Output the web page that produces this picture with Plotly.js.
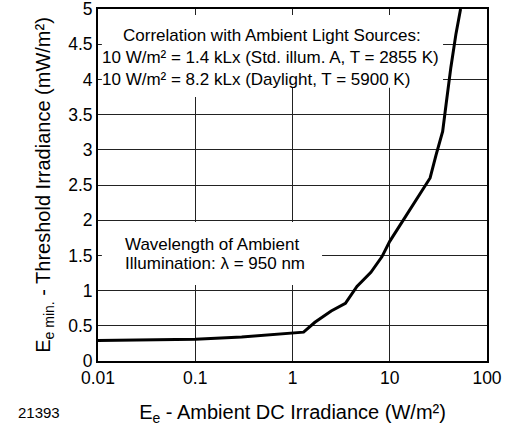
<!DOCTYPE html>
<html>
<head>
<meta charset="utf-8">
<script src="https://cdn.plot.ly/plotly-3.0.1.min.js"></script>
<style>html,body{margin:0;padding:0;background:#fff;}#chart{width:511px;height:432px;}</style>
</head>
<body>
<div id="chart"></div>
<script>
// Ambient DC irradiance (W/m²)
const ambientIrradiance = [0.01, 0.1, 0.3, 1.3, 1.7, 2.5, 3.5, 4.6, 6.4, 8.3, 10, 14.5, 19, 26, 30, 35, 38, 42.5, 48, 53.5];
// Threshold irradiance (mW/m²)
const thresholdIrradiance = [0.29, 0.31, 0.34, 0.41, 0.55, 0.71, 0.82, 1.06, 1.26, 1.48, 1.70, 2.05, 2.30, 2.60, 2.93, 3.26, 3.65, 4.17, 4.65, 5.0];
const xTickVals = [0.01, 0.1, 1, 10, 100];
const xTickText = ['0.01', '0.1', '1', '10', '100'];
const yTickVals = [0, 0.5, 1, 1.5, 2, 2.5, 3, 3.5, 4, 4.5, 5];
const yTickText = ['0', '0.5', '1', '1.5', '2', '2.5', '3', '3.5', '4', '4.5', '5'];

const font = 'Liberation Sans, Arial, Helvetica, sans-serif';

const trace = {
  x: ambientIrradiance,
  y: thresholdIrradiance,
  type: 'scatter',
  mode: 'lines',
  line: {color: '#000', width: 3},
  hoverinfo: 'skip'
};

const layout = {
  width: 511, height: 432,
  margin: {l: 98, r: 24, t: 9, b: 71},
  paper_bgcolor: '#fff', plot_bgcolor: '#fff',
  showlegend: false,
  font: {family: font, size: 16, color: '#000'},
  xaxis: {
    type: 'log', range: [-2, 2],
    tickvals: xTickVals, ticktext: xTickText,
    showgrid: true, gridcolor: '#222', gridwidth: 1,
    showline: true, linecolor: '#000', linewidth: 2, mirror: true,
    ticks: '', zeroline: false, ticklabeloverflow: 'allow',
    tickfont: {family: font, size: 17.5},
    title: {text: 'E<sub>e</sub> - Ambient DC Irradiance (W/m²)', font: {family: font, size: 20}, standoff: 18}
  },
  yaxis: {
    range: [0, 5],
    tickvals: yTickVals, ticktext: yTickText,
    showgrid: true, gridcolor: '#222', gridwidth: 1,
    showline: true, linecolor: '#000', linewidth: 2, mirror: true,
    ticks: '', zeroline: false, ticklabeloverflow: 'allow',
    tickfont: {family: font, size: 17.5},
    title: {text: 'E<sub>e min.</sub> - Threshold Irradiance (mW/m²)', font: {family: font, size: 20}, standoff: 12}
  },
  shapes: [
    {type: 'rect', xref: 'paper', yref: 'paper', x0: 0.010, x1: 0.887, y0: 0.776, y1: 0.983, fillcolor: '#fff', line: {width: 0}, layer: 'above'},
    {type: 'rect', xref: 'paper', yref: 'paper', x0: 0.15, x1: 0.40, y0: 0.750, y1: 0.966, fillcolor: '#fff', line: {width: 0}, layer: 'above'},
    {type: 'rect', xref: 'paper', yref: 'paper', x0: 0.010, x1: 0.576, y0: 0.216, y1: 0.395, fillcolor: '#fff', line: {width: 0}, layer: 'above'}
  ],
  annotations: [
    {xref: 'paper', yref: 'paper', x: 0.447, y: 0.926, xanchor: 'center', yanchor: 'middle', showarrow: false,
     text: 'Correlation with Ambient Light Sources:', font: {family: font, size: 17}},
    {xref: 'paper', yref: 'paper', x: 0.006, y: 0.862, xanchor: 'left', yanchor: 'middle', showarrow: false,
     text: '10 W/m² = 1.4 kLx (Std. illum. A, T = 2855 K)', font: {family: font, size: 17}},
    {xref: 'paper', yref: 'paper', x: 0.006, y: 0.800, xanchor: 'left', yanchor: 'middle', showarrow: false,
     text: '10 W/m² = 8.2 kLx (Daylight, T = 5900 K)', font: {family: font, size: 17}},
    {xref: 'paper', yref: 'paper', x: 0.064, y: 0.330, xanchor: 'left', yanchor: 'middle', showarrow: false,
     text: 'Wavelength of Ambient', font: {family: font, size: 17}},
    {xref: 'paper', yref: 'paper', x: 0.064, y: 0.276, xanchor: 'left', yanchor: 'middle', showarrow: false,
     text: 'Illumination: λ = 950 nm', font: {family: font, size: 17}},
    {xref: 'paper', yref: 'paper', x: -0.21, y: -0.145, xanchor: 'left', yanchor: 'middle', showarrow: false,
     text: '21393', font: {family: font, size: 15}}
  ]
};

Plotly.newPlot('chart', [trace], layout, {staticPlot: true, displayModeBar: false});
</script>
</body>
</html>
